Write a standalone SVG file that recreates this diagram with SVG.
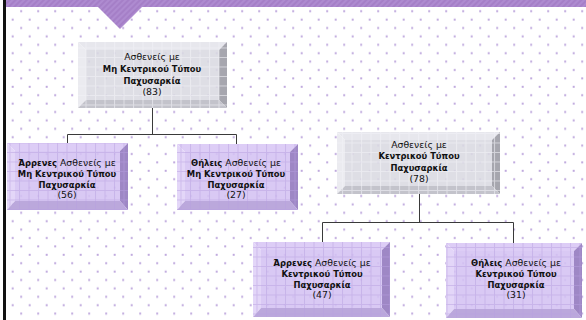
<svg xmlns="http://www.w3.org/2000/svg" width="586" height="320" viewBox="0 0 586 320">
<defs>
<pattern id="dots" patternUnits="userSpaceOnUse" x="0" y="0" width="17" height="16.8">
<rect x="3.2" y="10.2" width="2" height="2" fill="#c0aade"/>
<rect x="11.7" y="1.8" width="2" height="2" fill="#c0aade"/>
</pattern>
<pattern id="stripes" patternUnits="userSpaceOnUse" width="4" height="4" patternTransform="rotate(45)">
<rect width="4" height="4" fill="#a57fc7"/>
<rect width="2" height="4" fill="#ae8bd0"/>
</pattern>
<pattern id="gridG" patternUnits="userSpaceOnUse" x="0" y="0" width="9.5" height="9.5">
<path d="M0 0.5H9.5M0.5 0V9.5" stroke="#f2f2f6" stroke-width="1" fill="none" opacity="0.6"/>
</pattern>
<pattern id="gridP" patternUnits="userSpaceOnUse" x="0" y="0" width="9.5" height="9.5">
<path d="M0 0.5H9.5M0.5 0V9.5" stroke="#b89fdf" stroke-width="1" fill="none" opacity="0.5"/>
</pattern>
</defs>
<style>
.txt{font-family:"DejaVu Sans",Verdana,sans-serif;font-size:9.3px;fill:#111;text-anchor:middle}
.b{font-weight:bold;font-size:8.4px}
.conn{stroke:#3a3a3a;stroke-width:1;fill:none}
.gF{fill:#d9d9e1;opacity:0.88}
.gT{fill:#e7e7ed}
.gL{fill:#ebebf0}
.gR{fill:#a6a6ae}
.gB{fill:#c3c3cb}
.pF{fill:#d4c1f2;opacity:0.88}
.pT{fill:#ddcdf6}
.pL{fill:#e3d6f8}
.pR{fill:#9e87c5}
.pB{fill:#bba8dc}
</style>
<rect x="0" y="0" width="586" height="320" fill="#ffffff"/>
<rect x="0" y="0" width="586" height="320" fill="url(#dots)"/>
<path d="M5 0H586V7H142L120 29L98 7H5Z" fill="url(#stripes)"/>
<rect x="3" y="0" width="3" height="320" fill="#111"/>

<g id="connectors">
<path class="conn" d="M152.5 108V134.5M67.5 134.5H236.5M67.5 134.5V143M236.5 134.5V144"/>
<path class="conn" d="M419.5 194V222.5M322.5 222.5H513.5M322.5 222.5V242M513.5 222.5V243"/>
</g>

<g id="n1">
<polygon class="gT" points="78,42 227,42 219,50 86,50"/>
<polygon class="gL" points="78,42 86,50 86,100 78,108"/>
<polygon class="gR" points="227,42 227,108 219,100 219,50"/>
<polygon class="gB" points="78,108 86,100 219,100 227,108"/>
<rect class="gF" x="86" y="50" width="133" height="50"/>
<rect x="78" y="42" width="149" height="66" fill="url(#gridG)"/>
<text class="txt" x="152" y="59.5">Ασθενείς με</text>
<text class="txt b" x="152" y="71.5">Μη Κεντρικού Τύπου</text>
<text class="txt b" x="152" y="83.5">Παχυσαρκία</text>
<text class="txt" x="152" y="95">(83)</text>
</g>

<g id="n2">
<polygon class="pT" points="7,143 128,143 120,151 15,151"/>
<polygon class="pL" points="7,143 15,151 15,201 7,210"/>
<polygon class="pR" points="128,143 128,210 120,201 120,151"/>
<polygon class="pB" points="7,210 15,201 120,201 128,210"/>
<rect class="pF" x="15" y="151" width="105" height="50"/>
<rect x="7" y="143" width="121" height="67" fill="url(#gridP)"/>
<text class="txt" x="67" y="165.5"><tspan class="b">Άρρενες</tspan> Ασθενείς με</text>
<text class="txt b" x="67" y="176.5">Μη Κεντρικού Τύπου</text>
<text class="txt b" x="67" y="187.5">Παχυσαρκία</text>
<text class="txt" x="67" y="197.5">(56)</text>
</g>

<g id="n3">
<polygon class="pT" points="177,144 298,144 290,152 185,152"/>
<polygon class="pL" points="177,144 185,152 185,201 177,210"/>
<polygon class="pR" points="298,144 298,210 290,201 290,152"/>
<polygon class="pB" points="177,210 185,201 290,201 298,210"/>
<rect class="pF" x="185" y="152" width="105" height="49"/>
<rect x="177" y="144" width="121" height="66" fill="url(#gridP)"/>
<text class="txt" x="236" y="165.5"><tspan class="b">Θήλεις</tspan> Ασθενείς με</text>
<text class="txt b" x="236" y="176.5">Μη Κεντρικού Τύπου</text>
<text class="txt b" x="236" y="187.5">Παχυσαρκία</text>
<text class="txt" x="236" y="197.5">(27)</text>
</g>

<g id="n4">
<polygon class="gT" points="337,132 500,132 492,140 345,140"/>
<polygon class="gL" points="337,132 345,140 345,186 337,194"/>
<polygon class="gR" points="500,132 500,194 492,186 492,140"/>
<polygon class="gB" points="337,194 345,186 492,186 500,194"/>
<rect class="gF" x="345" y="140" width="147" height="46"/>
<rect x="337" y="132" width="163" height="62" fill="url(#gridG)"/>
<text class="txt" x="419" y="147.5">Ασθενείς με</text>
<text class="txt b" x="419" y="159">Κεντρικού Τύπου</text>
<text class="txt b" x="419" y="170.5">Παχυσαρκία</text>
<text class="txt" x="419" y="182">(78)</text>
</g>

<g id="n5">
<polygon class="pT" points="253,242 390,242 382,250 261,250"/>
<polygon class="pL" points="253,242 261,250 261,308 253,317"/>
<polygon class="pR" points="390,242 390,317 382,308 382,250"/>
<polygon class="pB" points="253,317 261,308 382,308 390,317"/>
<rect class="pF" x="261" y="250" width="121" height="58"/>
<rect x="253" y="242" width="137" height="75" fill="url(#gridP)"/>
<text class="txt" x="322" y="265.5"><tspan class="b">Άρρενες</tspan> Ασθενείς με</text>
<text class="txt b" x="322" y="276.5">Κεντρικού Τύπου</text>
<text class="txt b" x="322" y="287.5">Παχυσαρκία</text>
<text class="txt" x="322" y="298">(47)</text>
</g>

<g id="n6">
<polygon class="pT" points="446,243 582,243 574,251 454,251"/>
<polygon class="pL" points="446,243 454,251 454,309 446,318"/>
<polygon class="pR" points="582,243 582,318 574,309 574,251"/>
<polygon class="pB" points="446,318 454,309 574,309 582,318"/>
<rect class="pF" x="454" y="251" width="120" height="58"/>
<rect x="446" y="243" width="136" height="75" fill="url(#gridP)"/>
<text class="txt" x="516" y="265.5"><tspan class="b">Θήλεις</tspan> Ασθενείς με</text>
<text class="txt b" x="516" y="276.5">Κεντρικού Τύπου</text>
<text class="txt b" x="516" y="287.5">Παχυσαρκία</text>
<text class="txt" x="516" y="298">(31)</text>
</g>
</svg>
